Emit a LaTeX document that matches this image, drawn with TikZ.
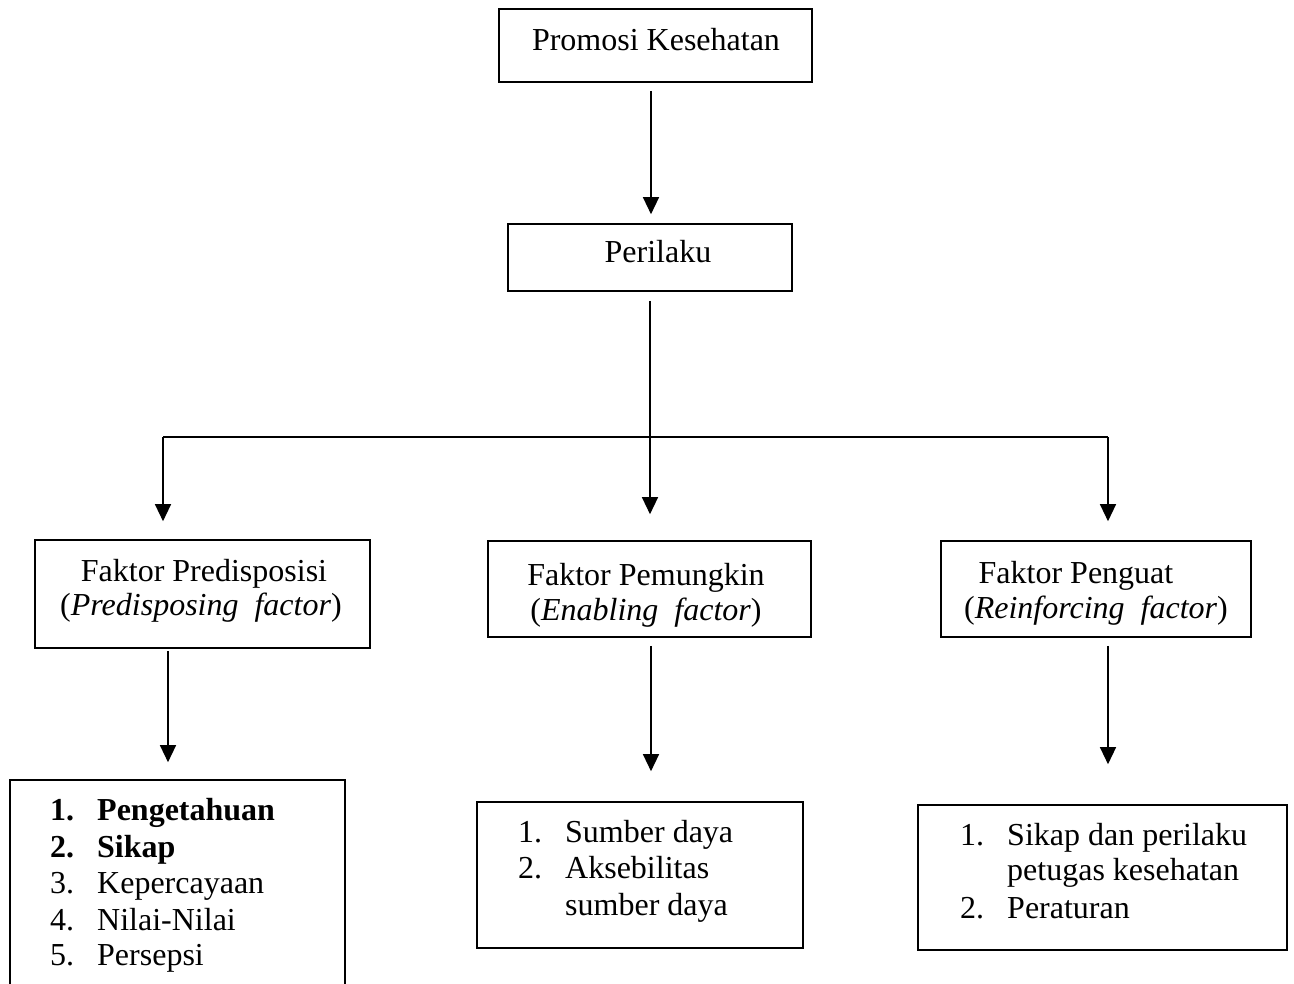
\documentclass[tikz,border=0pt]{standalone}
\usepackage{fontspec}
\setmainfont{Liberation Serif}
\usetikzlibrary{arrows.meta}
\begin{document}
\begin{tikzpicture}[x=1pt,y=-1pt,
  box/.style={draw,line width=1.6pt,inner sep=0pt,rectangle},
  txt/.style={inner sep=0pt,font=\fontsize{32}{37}\selectfont},
  arr/.style={line width=1.3pt,-{Triangle[width=16pt,length=17pt]}},
  ln/.style={line width=1.3pt}]
\useasboundingbox (0,0) rectangle (1294,984);
% boxes
\node[box,minimum width=313pt,minimum height=73pt] (pk) at (655.5,45.5) {};
\node[box,minimum width=284pt,minimum height=67pt] (per) at (650,257.5) {};
\node[box,minimum width=335pt,minimum height=108pt] (fpre) at (202.5,594) {};
\node[box,minimum width=323pt,minimum height=96pt] (fpem) at (649.5,589) {};
\node[box,minimum width=310pt,minimum height=96pt] (fpen) at (1096,589) {};
\node[box,minimum width=335pt,minimum height=220pt] (l1) at (177.5,890) {};
\node[box,minimum width=326pt,minimum height=146pt] (l2) at (640,875) {};
\node[box,minimum width=369pt,minimum height=145pt] (l3) at (1102.5,877.5) {};
% texts
\node[txt,anchor=base] (tpk) at (656,51) {Promosi Kesehatan};
\node[txt,anchor=base] (tper) at (658,263) {Perilaku};
\node[txt,anchor=base] (tfpre1) at (204,581) {Faktor Predisposisi};
\node[txt,anchor=base] (tfpre2) at (201,615) {(\textit{Predisposing}\hspace{8pt} \textit{factor})};
\node[txt,anchor=base] (tfpem1) at (646,585) {Faktor Pemungkin};
\node[txt,anchor=base] (tfpem2) at (646,620) {(\textit{Enabling}\hspace{8pt} \textit{factor})};
\node[txt,anchor=base] (tfpen1) at (1076,583) {Faktor Penguat};
\node[txt,anchor=base] (tfpen2) at (1096,618) {(\textit{Reinforcing}\hspace{8pt} \textit{factor})};
% list 1
\node[txt,anchor=base west] (a1n) at (50,820) {\textbf{1.}};
\node[txt,anchor=base west] (a1t) at (97,820) {\textbf{Pengetahuan}};
\node[txt,anchor=base west] (a2n) at (50,857) {\textbf{2.}};
\node[txt,anchor=base west] (a2t) at (97,857) {\textbf{Sikap}};
\node[txt,anchor=base west] (a3n) at (50,893) {3.};
\node[txt,anchor=base west] (a3t) at (97,893) {Kepercayaan};
\node[txt,anchor=base west] (a4n) at (50,930) {4.};
\node[txt,anchor=base west] (a4t) at (97,930) {Nilai-Nilai};
\node[txt,anchor=base west] (a5n) at (50,965) {5.};
\node[txt,anchor=base west] (a5t) at (97,965) {Persepsi};
% list 2
\node[txt,anchor=base west] (b1n) at (518,842) {1.};
\node[txt,anchor=base west] (b1t) at (565,842) {Sumber daya};
\node[txt,anchor=base west] (b2n) at (518,878) {2.};
\node[txt,anchor=base west] (b2t) at (565,878) {Aksebilitas};
\node[txt,anchor=base west] (b3t) at (565,915) {sumber daya};
% list 3
\node[txt,anchor=base west] (c1n) at (960,845) {1.};
\node[txt,anchor=base west] (c1t) at (1007,845) {Sikap dan perilaku};
\node[txt,anchor=base west] (c2t) at (1007,880) {petugas kesehatan};
\node[txt,anchor=base west] (c3n) at (960,918) {2.};
\node[txt,anchor=base west] (c3t) at (1007,918) {Peraturan};
% connector coordinates
\coordinate (jl) at (163,437);
\coordinate (jm) at (650,437);
\coordinate (jr) at (1108,437);
% connectors
\draw[arr] ([yshift=-8pt]pk.south -| 651,0) -- ([yshift=9pt]per.north -| 651,0);
\draw[ln] ([yshift=-9pt]per.south -| jm) -- (jm);
\draw[ln] (jl) -- (jr);
\draw[arr] (jm) -- ([yshift=26pt]fpem.north -| jm);
\draw[arr] (jl) -- ([yshift=18pt]fpre.north -| jl);
\draw[arr] (jr) -- ([yshift=19pt]fpen.north -| jr);
\draw[arr] ([yshift=-2pt]fpre.south -| 168,0) -- ([yshift=17pt]l1.north -| 168,0);
\draw[arr] ([yshift=-8pt]fpem.south -| 651,0) -- ([yshift=30pt]l2.north -| 651,0);
\draw[arr] ([yshift=-8pt]fpen.south -| 1108,0) -- ([yshift=40pt]l3.north -| 1108,0);
\end{tikzpicture}
\end{document}
